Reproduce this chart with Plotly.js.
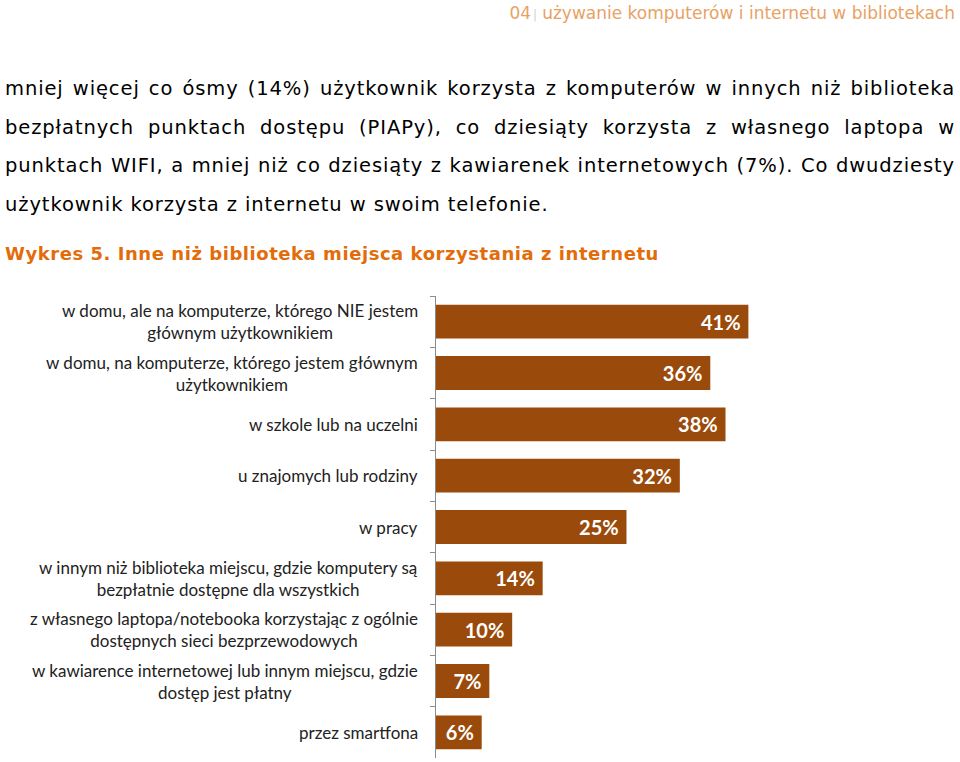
<!DOCTYPE html>
<html>
<head>
<meta charset="utf-8">
<script src="https://cdn.plot.ly/plotly-3.0.1.min.js"></script>
<style>
  html, body { margin: 0; padding: 0; background: #fff; }
  body { width: 960px; height: 762px; position: relative; overflow: hidden; }
  .header {
    position: absolute; top: 3px; right: 5px;
    font-family: 'DejaVu Sans', Verdana, sans-serif; font-size: 17px;
    color: #e8a264; white-space: nowrap;
  }
  .header .sep { color: #d8d0c8; font-size: 12px; margin: 0 5px 0 2px; }
  .para {
    position: absolute; left: 5px; top: 70px; width: 950px;
    font-family: 'DejaVu Sans', Verdana, sans-serif; font-size: 19.5px;
    letter-spacing: 0.9px;
    color: #000;
  }
  .para div { height: 38.7px; line-height: 38.7px; text-align: justify; text-align-last: justify; white-space: nowrap; }
  .para div.last { text-align-last: left; }
  .title {
    position: absolute; left: 5px; top: 243px;
    font-family: 'DejaVu Sans', Verdana, sans-serif; font-size: 18px; font-weight: bold;
    letter-spacing: 0.55px;
    color: #e36c0a; white-space: nowrap;
  }
  #chart { position: absolute; left: 0; top: 280px; width: 960px; height: 482px; }
</style>
</head>
<body>
<div class="header">04<span class="sep">|</span>używanie komputerów i internetu w bibliotekach</div>
<div class="para">
  <div>mniej więcej co ósmy (14%) użytkownik korzysta z komputerów w innych niż biblioteka</div>
  <div>bezpłatnych punktach dostępu (PIAPy), co dziesiąty korzysta z własnego laptopa w</div>
  <div>punktach WIFI, a mniej niż co dziesiąty z kawiarenek internetowych (7%). Co dwudziesty</div>
  <div class="last">użytkownik korzysta z internetu w swoim telefonie.</div>
</div>
<div class="title">Wykres 5. Inne niż biblioteka miejsca korzystania z internetu</div>
<div id="chart"></div>
<script>
// Places of internet use other than the library (top to bottom)
const categories = [
    'w domu, ale na komputerze, którego NIE jestem<br>głównym użytkownikiem',
    'w domu, na komputerze, którego jestem głównym<br>użytkownikiem',
    'w szkole lub na uczelni',
    'u znajomych lub rodziny',
    'w pracy',
    'w innym niż biblioteka miejscu, gdzie komputery są<br>bezpłatnie dostępne dla wszystkich',
    'z własnego laptopa/notebooka korzystając z ogólnie<br>dostępnych sieci bezprzewodowych',
    'w kawiarence internetowej lub innym miejscu, gdzie<br>dostęp jest płatny',
    'przez smartfona',
];

// Share of users, percent
const values = [41, 36, 38, 32, 25, 14, 10, 7, 6];

const BAR_COLOR = '#9a4a0b';

const trace = {
    type: 'bar',
    orientation: 'h',
    x: values,
    y: categories,
    marker: { color: BAR_COLOR, line: { width: 0 } },
    // trailing no-break space keeps the label off the bar end, as in the original
    text: values.map(v => v + '%\u00a0'),
    textposition: 'inside',
    insidetextanchor: 'end',
    constraintext: 'none',
    textfont: { family: 'Lato, sans-serif', size: 20, color: '#ffffff', weight: 700 },
    hoverinfo: 'skip',
};

// Category labels as annotations so the two-line ones are centred
const labelNotes = categories.map(c => ({
    x: 0,
    xref: 'paper',
    y: c,
    yref: 'y',
    text: c,
    showarrow: false,
    xanchor: 'right',
    yanchor: 'middle',
    align: 'center',
    xshift: -16,
    font: { family: 'Lato, sans-serif', size: 17, color: '#222222' },
}));

const layout = {
    width: 960,
    height: 482,
    margin: { l: 436, r: 60, t: 16, b: 4 },
    paper_bgcolor: '#ffffff',
    plot_bgcolor: '#ffffff',
    showlegend: false,
    bargap: 0.34,
    xaxis: {
        range: [0, 60.9],
        visible: false,
        fixedrange: true,
    },
    yaxis: {
        type: 'category',
        autorange: 'reversed',
        showticklabels: false,
        showline: true,
        linecolor: '#8c8c8c',
        linewidth: 1,
        ticks: 'outside',
        tickson: 'boundaries',
        ticklen: 5,
        tickcolor: '#8c8c8c',
        showgrid: false,
        zeroline: false,
        fixedrange: true,
    },
    annotations: labelNotes,
};

Plotly.newPlot('chart', [trace], layout, { displayModeBar: false, staticPlot: true });
</script>
</body>
</html>
